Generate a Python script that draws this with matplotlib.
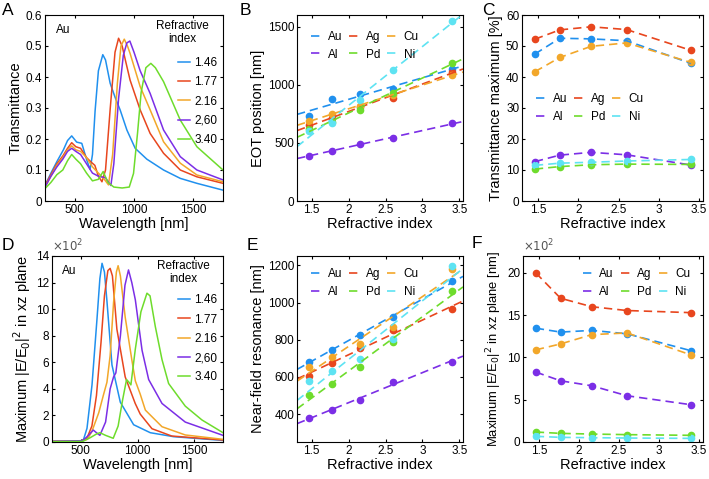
import matplotlib
matplotlib.use("Agg")
import matplotlib.pyplot as plt
import numpy as np

plt.rcParams['font.family'] = ['Liberation Sans', 'DejaVu Sans']
plt.rcParams['font.size'] = 8
plt.rcParams['xtick.direction'] = 'in'
plt.rcParams['ytick.direction'] = 'in'
plt.rcParams['xtick.top'] = True
plt.rcParams['ytick.right'] = True
plt.rcParams['xtick.major.size'] = 2.5
plt.rcParams['ytick.major.size'] = 2.5
plt.rcParams['axes.linewidth'] = 0.8

# colours (index / metal)
c_blue = '#2090ee'
c_red = '#e8461e'
c_orange = '#f2a72a'
c_purple = '#7b2ee6'
c_green = '#6edc2c'
c_cyan = '#5ee3f2'

# ---- panel A : transmittance spectra, Au ----
wlA_146 = [250, 300, 350, 405, 440, 475, 517, 560, 602, 630, 650, 672, 700, 737, 760, 799, 840, 883, 940, 1010, 1108, 1249, 1390, 1530, 1750]
tA_146 = [0.05, 0.09, 0.127, 0.165, 0.195, 0.21, 0.19, 0.186, 0.132, 0.102, 0.15, 0.29, 0.42, 0.472, 0.455, 0.38, 0.335, 0.294, 0.229, 0.17, 0.135, 0.1, 0.073, 0.057, 0.035]
wlA_177 = [250, 300, 350, 400, 440, 475, 510, 550, 600, 640, 670, 700, 730, 760, 800, 840, 870, 900, 930, 967, 1052, 1136, 1249, 1390, 1530, 1750]
tA_177 = [0.05, 0.085, 0.12, 0.145, 0.17, 0.188, 0.175, 0.17, 0.14, 0.125, 0.115, 0.08, 0.062, 0.1, 0.3, 0.48, 0.525, 0.5, 0.45, 0.39, 0.294, 0.218, 0.154, 0.1, 0.078, 0.057]
wlA_216 = [250, 300, 350, 400, 440, 475, 510, 550, 600, 650, 700, 750, 785, 820, 860, 890, 918, 945, 967, 1052, 1136, 1249, 1390, 1530, 1750]
tA_216 = [0.045, 0.08, 0.115, 0.14, 0.165, 0.178, 0.165, 0.16, 0.14, 0.11, 0.09, 0.07, 0.052, 0.15, 0.38, 0.5, 0.522, 0.5, 0.476, 0.369, 0.294, 0.191, 0.122, 0.084, 0.062]
wlA_260 = [250, 300, 350, 400, 440, 475, 510, 550, 600, 650, 700, 760, 805, 830, 870, 910, 940, 965, 1000, 1052, 1136, 1249, 1390, 1530, 1750]
tA_260 = [0.045, 0.08, 0.11, 0.135, 0.16, 0.17, 0.16, 0.15, 0.12, 0.09, 0.08, 0.075, 0.05, 0.12, 0.33, 0.47, 0.51, 0.516, 0.48, 0.42, 0.347, 0.229, 0.143, 0.1, 0.068]
wlA_340 = [250, 300, 350, 400, 440, 475, 510, 550, 600, 650, 700, 740, 780, 830, 900, 960, 996, 1030, 1060, 1100, 1142, 1180, 1249, 1390, 1530, 1750]
tA_340 = [0.04, 0.06, 0.085, 0.1, 0.13, 0.15, 0.135, 0.12, 0.09, 0.065, 0.07, 0.095, 0.06, 0.045, 0.042, 0.045, 0.089, 0.22, 0.35, 0.43, 0.444, 0.43, 0.385, 0.261, 0.175, 0.1]

# ---- panel D : near-field enhancement spectra, Au (x10^2) ----
wlD_146 = [250, 400, 500, 527, 557, 601, 645, 670, 689, 710, 732, 776, 849, 966, 1112, 1317, 1750]
eD_146 = [0.05, 0.05, 0.05, 0.2, 1.03, 4.3, 9.3, 12.3, 13.45, 12.8, 10.6, 5.8, 3.0, 1.3, 0.7, 0.4, 0.12]
wlD_177 = [250, 500, 557, 600, 640, 680, 710, 740, 760, 780, 819, 892, 980, 1024, 1127, 1300, 1750]
eD_177 = [0.05, 0.05, 0.3, 1.2, 3.5, 7.5, 11, 12.9, 13.07, 12.5, 8.5, 4.9, 2.9, 2.1, 1.0, 0.45, 0.15]
wlD_216 = [250, 500, 560, 600, 660, 700, 732, 760, 790, 815, 830, 850, 892, 950, 981, 1024, 1069, 1215, 1419, 1750]
eD_216 = [0.05, 0.05, 0.2, 0.8, 2.2, 3.5, 4.5, 6.5, 10.5, 12.8, 13.27, 12.5, 9.4, 6.2, 4.6, 3.6, 2.4, 1.15, 0.53, 0.2]
wlD_260 = [250, 520, 570, 612, 640, 670, 720, 760, 790, 810, 850, 890, 921, 950, 981, 1040, 1098, 1215, 1419, 1750]
eD_260 = [0.05, 0.1, 0.5, 0.9, 0.7, 0.5, 1.5, 4.0, 4.9, 5.2, 8.0, 11.8, 12.95, 12.0, 10.7, 6.9, 4.7, 2.9, 1.5, 0.5]
wlD_340 = [250, 520, 580, 640, 670, 720, 787, 830, 870, 904, 925, 942, 981, 1030, 1083, 1110, 1156, 1215, 1273, 1419, 1565, 1750]
eD_340 = [0.03, 0.05, 0.3, 0.6, 0.7, 0.5, 0.28, 1.2, 3.2, 4.7, 4.5, 4.3, 7.0, 9.8, 11.2, 11.0, 8.7, 6.2, 4.4, 2.7, 1.66, 0.7]

# ---- panels B, C, E, F : per metal vs refractive index ----
n_idx = [1.46, 1.77, 2.16, 2.60, 3.40]
metals = ['Au', 'Ag', 'Cu', 'Al', 'Pd', 'Ni']
metal_colors = [c_blue, c_red, c_orange, c_purple, c_green, c_cyan]

eot_Au = [734, 878, 921, 964, 1133]
eot_Ag = [654, 711, 812, 889, 1113]
eot_Cu = [691, 746, 817, 912, 1084]
eot_Al = [390, 433, 488, 539, 668]
eot_Pd = [617, 683, 783, 932, 1190]
eot_Ni = [602, 668, 869, 1127, 1549]

tmax_Au = [47.4, 52.5, 52.3, 51.7, 44.4]
tmax_Ag = [52.2, 55.2, 56.2, 55.3, 48.6]
tmax_Cu = [41.7, 46.3, 49.9, 51.0, 44.7]
tmax_Al = [12.7, 14.8, 15.7, 14.9, 11.6]
tmax_Pd = [10.3, 11.1, 11.7, 11.9, 11.8]
tmax_Ni = [11.5, 12.2, 12.5, 12.9, 13.4]

nf_Au = [682, 746, 825, 921, 1114]
nf_Ag = [605, 677, 757, 850, 966]
nf_Cu = [655, 709, 779, 870, 1180]
nf_Al = [377, 421, 477, 575, 682]
nf_Pd = [502, 561, 655, 787, 1061]
nf_Ni = [578, 632, 698, 802, 1198]

emax_Au = [13.46, 13.0, 13.2, 12.8, 10.8]
emax_Ag = [20.0, 17.0, 16.0, 15.55, 15.3]
emax_Cu = [10.9, 11.6, 12.7, 12.9, 10.3]
emax_Al = [8.27, 7.24, 6.65, 5.47, 4.41]
emax_Pd = [1.18, 1.02, 0.94, 0.87, 0.79]
emax_Ni = [0.67, 0.55, 0.51, 0.47, 0.43]

idx_labels = ['1.46', '1.77', '2.16', '2,60', '3.40']
idx_colors = [c_blue, c_red, c_orange, c_purple, c_green]

W, H = 709, 479
fig = plt.figure(figsize=(W / 100, H / 100), dpi=100)


def axes_px(left, right, top, bottom):
    return fig.add_axes([left / W, 1 - bottom / H, (right - left) / W, (bottom - top) / H])


def spectra(ax, curves, ylab, ylim, title_y, leg_top):
    for (x, y), col, lab in zip(curves, idx_colors, idx_labels):
        ax.plot(x, y, color=col, lw=1.1, label=lab)
    ax.set_xlim(250, 1750)
    ax.set_ylim(*ylim)
    ax.set_xticks([500, 1000, 1500])
    ax.set_xlabel('Wavelength [nm]', fontsize=10.5, labelpad=1)
    ax.set_ylabel(ylab, fontsize=10.5, labelpad=2)
    ax.text(0.06, 0.95, 'Au', transform=ax.transAxes, fontsize=8.5, va='top')
    ax.text(0.77, title_y, 'Refractive\nindex', transform=ax.transAxes, fontsize=8.5,
            ha='center', va='center', multialignment='center', linespacing=1.1)
    ax.legend(loc='upper right', bbox_to_anchor=(0.995, leg_top), frameon=False, fontsize=8.5,
              handlelength=1.0, handletextpad=0.4, labelspacing=0.62, borderaxespad=0.0)


def metal_panel(ax, series, ylab, fit=False, legend_loc='upper left', bbox=None, ylab_size=10.5):
    xx = np.array(n_idx)
    for vals, col, name in zip(series, metal_colors, metals):
        ax.plot(xx, vals, 'o', color=col, ms=4.5, mec=col)
    ax.set_xlim(1.3, 3.55)
    handles = {}
    for vals, col, name in zip(series, metal_colors, metals):
        if fit:
            p = np.polyfit(xx, vals, 1)
            xf = np.array(ax.get_xlim())
            h, = ax.plot(xf, np.polyval(p, xf), '--', color=col, lw=1.2, dashes=(5, 3), label=name)
        else:
            h, = ax.plot(xx, vals, '--', color=col, lw=1.2, dashes=(5, 3), label=name)
        handles[name] = h
    order = ['Au', 'Al', 'Ag', 'Pd', 'Cu', 'Ni']
    kw = dict(ncol=3, frameon=False, fontsize=8.5, handlelength=1.0, handletextpad=0.4,
              columnspacing=0.6, labelspacing=0.45)
    ax.legend([handles[k] for k in order], order, loc=legend_loc, bbox_to_anchor=bbox, **kw)
    ax.set_xticks([1.5, 2, 2.5, 3, 3.5])
    ax.set_xticklabels(['1.5', '2', '2.5', '3', '3.5'])
    ax.set_xlabel('Refractive index', fontsize=10.5, labelpad=1)
    ax.set_ylabel(ylab, fontsize=ylab_size, labelpad=2)


# A
axA = axes_px(45, 223, 15, 201)
spectra(axA, [(wlA_146, tA_146), (wlA_177, tA_177), (wlA_216, tA_216),
              (wlA_260, tA_260), (wlA_340, tA_340)], 'Transmittance', (0, 0.6),
        title_y=0.905, leg_top=0.80)
axA.set_yticks([0, 0.1, 0.2, 0.3, 0.4, 0.5, 0.6])
axA.set_yticklabels(['0', '0.1', '0.2', '0.3', '0.4', '0.5', '0.6'])

# B
axB = axes_px(297, 463, 15, 201)
metal_panel(axB, [eot_Au, eot_Ag, eot_Cu, eot_Al, eot_Pd, eot_Ni], 'EOT position [nm]', fit=True,
            legend_loc='upper left', bbox=(0.02, 0.97))
axB.set_ylim(0, 1600)
axB.set_yticks([0, 500, 1000, 1500])

# C
axC = axes_px(522, 703, 15, 201)
metal_panel(axC, [tmax_Au, tmax_Ag, tmax_Cu, tmax_Al, tmax_Pd, tmax_Ni], 'Transmittance maximum [%]',
            legend_loc='center left', bbox=(0.02, 0.5))
axC.set_ylim(0, 60)
axC.set_yticks([0, 10, 20, 30, 40, 50, 60])

# D
axD = axes_px(52, 223, 256, 442)
spectra(axD, [(wlD_146, eD_146), (wlD_177, eD_177), (wlD_216, eD_216),
              (wlD_260, eD_260), (wlD_340, eD_340)],
        r'Maximum |E/E$_0$|$^2$ in xz plane', (0, 14), title_y=0.91, leg_top=0.82)
axD.set_yticks(range(0, 15, 2))
axD.text(0.0, 1.01, r'$\times10^2$', transform=axD.transAxes, fontsize=8.5, color='#555555', va='bottom')

# E
axE = axes_px(297, 463, 256, 442)
metal_panel(axE, [nf_Au, nf_Ag, nf_Cu, nf_Al, nf_Pd, nf_Ni], 'Near-field resonance [nm]', fit=True,
            legend_loc='upper left', bbox=(0.02, 0.99))
axE.set_ylim(250, 1250)
axE.set_yticks([400, 600, 800, 1000, 1200])

# F
axF = axes_px(523, 703, 256, 442)
metal_panel(axF, [emax_Au, emax_Ag, emax_Cu, emax_Al, emax_Pd, emax_Ni],
            r'Maximum |E/E$_0$|$^2$ in xz plane [nm]', legend_loc='upper right', bbox=(0.99, 0.99),
            ylab_size=9.4)
axF.set_ylim(0, 22)
axF.set_yticks([0, 5, 10, 15, 20])
axF.text(0.0, 1.01, r'$\times10^2$', transform=axF.transAxes, fontsize=8.5, color='#555555', va='bottom')

for ax in [axA, axB, axC, axD, axE, axF]:
    ax.tick_params(labelsize=8.5, pad=2)

# panel letters
for lab, x, y in [('A', 2, 3), ('B', 240, 3), ('C', 482, 3), ('D', 2, 238), ('E', 247, 238), ('F', 472, 236)]:
    fig.text(x / W, 1 - y / H, lab, fontsize=12.5, va='top', ha='left')

fig.savefig('out.png', dpi=100)
